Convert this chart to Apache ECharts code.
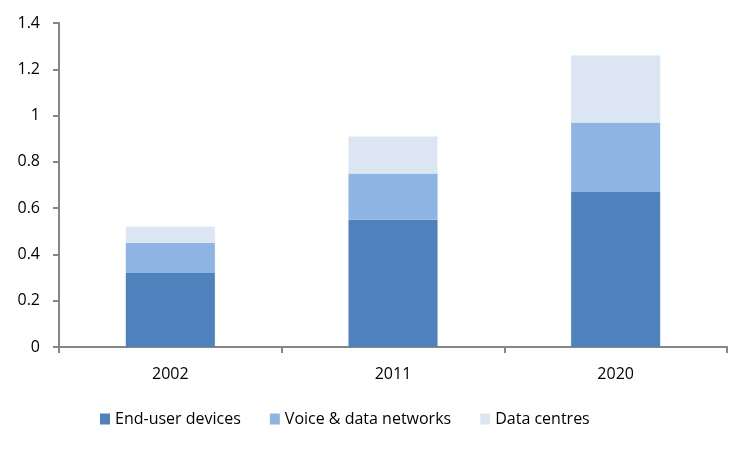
<!DOCTYPE html>
<html>
<head>
<meta charset="utf-8">
<script src="https://cdn.jsdelivr.net/npm/echarts@6/dist/echarts.min.js"></script>
<style>html,body{margin:0;padding:0;background:#fff}#c{width:750px;height:449px}</style>
</head>
<body>
<div id="c"></div>
<script>
const categories = ['2002', '2011', '2020'];
const endUser = [0.32, 0.55, 0.67];
const voiceData = [0.13, 0.20, 0.30];
const dataCentres = [0.07, 0.16, 0.29];
const yTicks = [0, 0.2, 0.4, 0.6, 0.8, 1, 1.2, 1.4];

const font = 'Open Sans';
const chart = echarts.init(document.getElementById('c'), null, {renderer: 'canvas'});
const axisColor = '#868686';
chart.setOption({
  animation: false,
  textStyle: {fontFamily: font},
  grid: {left: 59, right: 23, top: 23, bottom: 102, containLabel: false},
  legend: {
    left: 95, top: 406, itemWidth: 10, itemHeight: 11, itemGap: 29, itemTextGap: 5,
    icon: 'rect',
    textStyle: {fontFamily: font, fontSize: 16, color: '#000'},
    data: ['End-user devices', 'Voice & data networks', 'Data centres']
  },
  xAxis: {
    type: 'category', data: categories,
    axisLine: {lineStyle: {color: axisColor, width: 2}},
    axisTick: {show: true, length: 6, alignWithLabel: false, lineStyle: {color: axisColor, width: 2}},
    axisLabel: {margin: 19, fontFamily: font, fontSize: 16, color: '#000'}
  },
  yAxis: {
    type: 'value', min: 0, max: 1.4, interval: 0.2,
    splitLine: {show: false},
    axisLine: {show: true, lineStyle: {color: axisColor, width: 2}},
    axisTick: {show: true, length: 6, lineStyle: {color: axisColor, width: 2}},
    axisLabel: {margin: 19, fontFamily: font, fontSize: 16, color: '#000',
      formatter: v => { const t = yTicks.find(x => Math.abs(x - v) < 1e-9); return String(t !== undefined ? t : v); }}
  },
  series: [
    {name: 'End-user devices', type: 'bar', stack: 't', data: endUser, barWidth: '40%', itemStyle: {color: '#4F81BD'}},
    {name: 'Voice & data networks', type: 'bar', stack: 't', data: voiceData, barWidth: '40%', itemStyle: {color: '#8EB4E3'}},
    {name: 'Data centres', type: 'bar', stack: 't', data: dataCentres, barWidth: '40%', itemStyle: {color: '#DCE6F2'}}
  ]
});
</script>
</body>
</html>
